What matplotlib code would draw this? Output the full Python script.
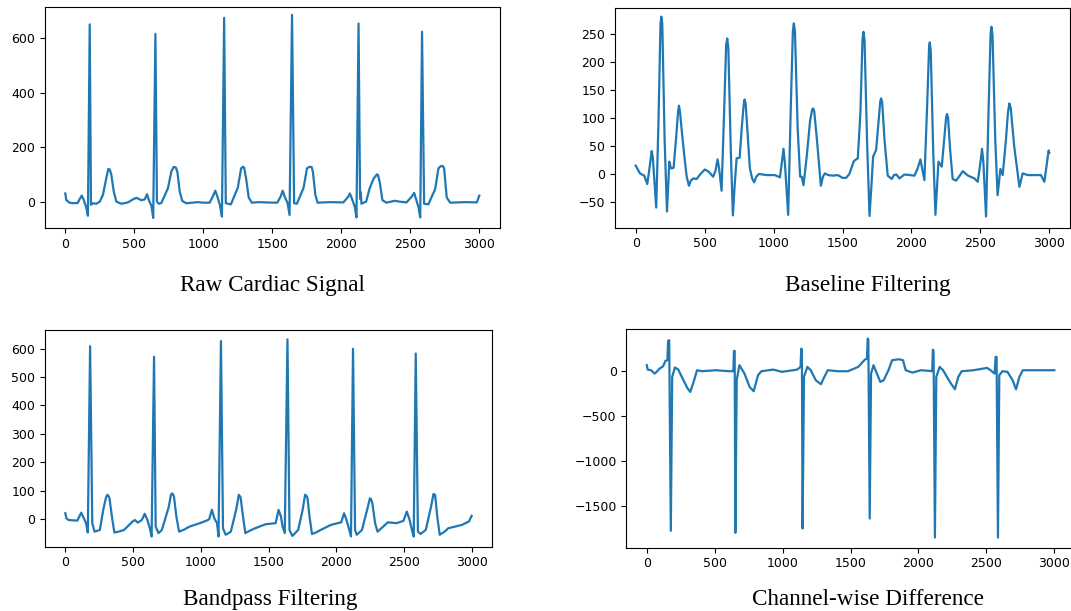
import matplotlib
matplotlib.use("Agg")
from matplotlib import pyplot as plt

# (sample, amplitude) points
raw_pts = [
    (0, 30), (7, 6), (30, -4), (60, -6), (90, -5), (105, 10), (119, 22), (132, 8), (150, -18),
    (164, -52), (177, 651), (186, -12), (200, -6), (225, -8), (250, 0), (273, 25), (297, 86),
    (312, 120), (322, 118), (333, 100), (351, 37), (370, 0), (406, -8), (454, -3), (490, 8),
    (515, 14), (551, 5), (575, 8), (592, 27), (608, 2), (624, -15), (637, -60), (653, 616),
    (664, 0), (678, -8), (696, -5), (744, 49), (768, 110), (785, 127), (800, 126), (812, 110),
    (829, 37), (848, 2), (877, -6), (960, -2), (1000, -4), (1046, -4), (1068, 18), (1087, 40),
    (1104, 15), (1120, -12), (1135, -55), (1151, 675), (1163, -6), (1200, -10), (1250, 51),
    (1274, 122), (1288, 128), (1296, 125), (1310, 86), (1329, 15), (1352, -4), (1400, -2),
    (1447, -3), (1536, -4), (1560, 18), (1575, 40), (1592, 15), (1610, -4), (1625, -49),
    (1643, 686), (1658, -6), (1678, -8), (1727, 51), (1751, 122), (1770, 128), (1785, 127),
    (1794, 110), (1812, 25), (1828, -4), (1920, -2), (2015, -3), (2050, 18), (2062, 30),
    (2081, 5), (2098, -20), (2110, -58), (2125, 654), (2136, 10), (2141, 35), (2146, -8),
    (2180, 0), (2207, 51), (2235, 85), (2258, 100), (2266, 98), (2280, 67), (2298, 5),
    (2327, -4), (2388, 3), (2420, 0), (2472, -3), (2510, 18), (2528, 32), (2547, 0),
    (2559, -20), (2572, -58), (2585, 624), (2600, -8), (2631, -10), (2680, 46), (2704, 122),
    (2720, 130), (2735, 131), (2745, 122), (2764, 15), (2789, -4), (2900, -2), (2982, -3),
    (3000, 22),
]

baseline_pts = [
    (0, 15), (31, 1), (62, -3), (84, -18), (100, 10), (116, 41), (124, 30), (149, -60),
    (165, 90), (180, 268), (186, 281), (193, 268), (210, 60), (227, -67), (236, -20), (244, 22),
    (256, 10), (275, 11), (295, 70), (307, 110), (314, 122), (322, 110), (335, 75), (352, 34),
    (370, -5), (386, -21), (400, -12), (417, -8), (442, -9), (470, 0), (502, 8), (530, 4),
    (562, -5), (578, 5), (594, 26), (605, 10), (623, -30), (640, 100), (656, 230), (664, 242),
    (672, 225), (690, 40), (705, -74), (718, -20), (732, 28), (754, 29), (770, 85), (784, 125),
    (790, 133), (798, 125), (812, 70), (828, 10), (845, -8), (859, -15), (875, -5), (893, 0),
    (950, -2), (1009, -2), (1046, -6), (1060, 20), (1072, 45), (1082, 20), (1106, -73),
    (1125, 120), (1140, 255), (1147, 269), (1155, 255), (1175, 80), (1193, -5), (1205, -5),
    (1217, -20), (1240, 30), (1265, 95), (1280, 115), (1287, 117), (1295, 112), (1315, 60),
    (1343, -21), (1358, -5), (1372, 1), (1396, -2), (1430, -3), (1466, -2), (1500, -7),
    (1526, -7), (1550, 0), (1582, 23), (1611, 28), (1630, 110), (1645, 240), (1652, 254),
    (1660, 238), (1678, 60), (1696, -75), (1710, -20), (1722, 31), (1744, 43), (1762, 95),
    (1774, 130), (1780, 135), (1788, 128), (1805, 60), (1828, -3), (1857, -9), (1873, -2),
    (1891, -1), (1913, -8), (1949, -1), (1990, -2), (2022, -3), (2045, 10), (2065, 26),
    (2094, -11), (2115, 130), (2128, 228), (2133, 235), (2140, 220), (2158, 40), (2174, -73),
    (2186, -20), (2196, 22), (2220, 13), (2240, 70), (2252, 102), (2258, 107), (2266, 100),
    (2280, 45), (2299, -9), (2323, -12), (2345, -5), (2372, 5), (2410, -3), (2457, -8),
    (2481, -14), (2500, 20), (2512, 45), (2522, 20), (2541, -76), (2560, 120), (2574, 250),
    (2580, 263), (2588, 248), (2608, 60), (2625, -38), (2645, 9), (2662, -2), (2685, 60),
    (2700, 110), (2710, 126), (2720, 118), (2745, 50), (2783, -23), (2807, 1), (2843, -2),
    (2900, -2), (2939, -2), (2964, -14), (2995, 42), (3000, 38),
]

bandpass_pts = [
    (0, 20), (8, 2), (25, -4), (89, -6), (105, 10), (117, 22), (137, 2), (153, -15), (166, -48),
    (183, 609), (199, -15), (216, -45), (255, -39), (280, 32), (300, 75), (311, 85), (320, 80),
    (326, 73), (344, 8), (362, -48), (400, -44), (433, -39), (470, -22), (497, -9), (514, -4),
    (535, -13), (565, -4), (586, 18), (606, -4), (624, -33), (637, -62), (655, 572), (667, -27),
    (688, -50), (713, -39), (764, 43), (780, 85), (789, 90), (796, 85), (802, 79), (820, 8),
    (840, -45), (880, -37), (917, -27), (993, -15), (1044, -6), (1062, -1), (1082, 32),
    (1100, 2), (1120, -15), (1131, -62), (1149, 627), (1164, -33), (1184, -56), (1222, -45),
    (1261, 32), (1281, 85), (1294, 76), (1312, 8), (1329, -50), (1360, -42), (1401, -33),
    (1477, -19), (1553, -15), (1574, 32), (1592, 8), (1604, -27), (1620, -50), (1640, 633),
    (1655, -39), (1676, -60), (1719, -39), (1752, 32), (1770, 85), (1780, 82), (1788, 73),
    (1803, 8), (1821, -53), (1850, -48), (1885, -39), (1961, -21), (2037, -12), (2058, 20),
    (2076, -4), (2093, -33), (2109, -62), (2124, 600), (2139, -39), (2152, -56), (2190, -39),
    (2228, 32), (2249, 73), (2258, 68), (2267, 55), (2287, -15), (2305, -45), (2340, -30),
    (2381, -12), (2445, -15), (2496, -7), (2521, 26), (2542, -4), (2559, -39), (2572, -62),
    (2587, 583), (2603, -45), (2623, -53), (2661, -39), (2700, 43), (2718, 88), (2730, 85),
    (2746, 8), (2764, -56), (2800, -45), (2827, -33), (2929, -21), (2980, -9), (3000, 11),
]

diff_pts = [
    (0, 67), (7, 18), (32, 11), (57, -26), (70, -11), (95, 30), (120, 55), (137, 115),
    (152, 122), (157, 336), (165, 344), (177, -1770), (187, -63), (207, 41), (232, 18),
    (270, -100), (300, -190), (320, -229), (345, -118), (370, 11), (407, 0), (507, 11), (607, 0),
    (637, 0), (642, 225), (647, 225), (652, -1792), (662, -100), (682, 67), (719, -26),
    (757, -174), (787, -222), (819, -44), (844, 0), (932, 18), (994, -7), (1107, 18),
    (1132, 48), (1137, 251), (1142, 240), (1147, -1744), (1157, -63), (1182, 48), (1207, 11),
    (1244, -100), (1282, -144), (1307, -63), (1332, 11), (1407, 0), (1481, 0), (1556, 48),
    (1606, 129), (1621, 140), (1626, 362), (1631, 351), (1641, -1633), (1651, -26), (1669, 67),
    (1694, -26), (1719, -118), (1744, -100), (1781, 18), (1806, 122), (1856, 133), (1886, 122),
    (1906, 11), (1956, -15), (2018, 11), (2081, 4), (2101, 0), (2106, 240), (2111, 225),
    (2121, -1844), (2131, -63), (2156, 48), (2181, 11), (2231, -118), (2268, -200), (2293, -63),
    (2318, 0), (2405, 11), (2505, 37), (2530, 11), (2560, -26), (2568, 159), (2575, 159),
    (2585, -1844), (2595, -44), (2618, 0), (2655, -7), (2693, -100), (2718, -200), (2743, -63),
    (2768, 11), (2880, 11), (3000, 11),
]

captions = ['Raw Cardiac Signal', 'Baseline Filtering', 'Bandpass Filtering', 'Channel-wise Difference']
x_ticks = [0, 500, 1000, 1500, 2000, 2500, 3000]

W, H = 1071, 611
plt.rcParams['font.size'] = 9

fig = plt.figure(figsize=(W / 100, H / 100), dpi=100)

# axes boxes in pixels: left, top, right, bottom
panels = [
    (raw_pts, (44.6, 6.7, 500, 228), (-97, 716), [0, 200, 400, 600], (272, 291)),
    (baseline_pts, (615, 7.7, 1070, 227.7), (-96, 297), [-50, 0, 50, 100, 150, 200, 250], (868, 291)),
    (bandpass_pts, (45, 330, 492, 546.7), (-98, 666), [0, 100, 200, 300, 400, 500, 600], (270, 605)),
    (diff_pts, (626.4, 329.3, 1074.7, 547.5), (-1955, 465), [-1500, -1000, -500, 0], (868, 605)),
]

for (pts, box, ylim, yticks, cap_xy), cap in zip(panels, captions):
    l, t, r, b = box
    ax = fig.add_axes([l / W, 1 - b / H, (r - l) / W, (b - t) / H])
    xs, ys = zip(*pts)
    ax.plot(xs, ys, color='#1f77b4', linewidth=1.6)
    ax.set_xlim(-150, 3150)
    ax.set_ylim(*ylim)
    ax.set_xticks(x_ticks)
    ax.set_yticks(yticks)
    fig.text(cap_xy[0] / W, 1 - cap_xy[1] / H, cap, ha='center', va='baseline',
             family='Liberation Serif', fontsize=16.7)

fig.savefig('out.png', dpi=100)
